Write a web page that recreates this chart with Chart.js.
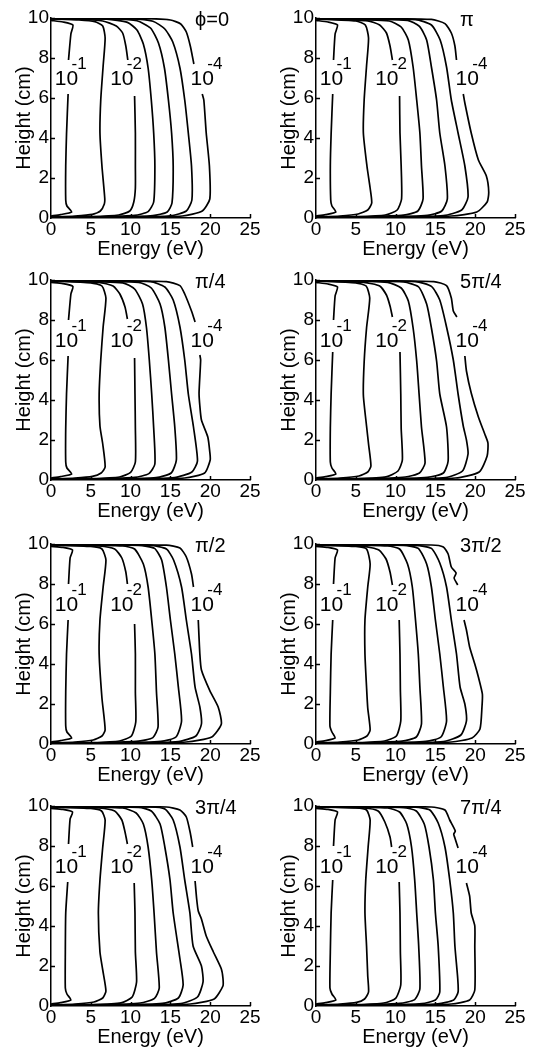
<!DOCTYPE html>
<html>
<head>
<meta charset="utf-8">
<script src="https://cdn.jsdelivr.net/npm/chart.js@4.4.1/dist/chart.umd.min.js"></script>
<style>
  body { margin: 0; background: #fff; }
  canvas { position: absolute; }
</style>
</head>
<body>
<script>
// axes
const energyTicks = [0, 5, 10, 15, 20, 25];
const heightTicks = [0, 2, 4, 6, 8, 10];
const panelNames = ['ϕ=0', 'π', 'π/4', '5π/4', 'π/2', '3π/2', '3π/4', '7π/4'];
// seven contours, 10^-1 to 10^-4 in half decades; 1st, 3rd and 7th are labelled
const levelExponents = ['-1', '-2', '-4'];

// contour lines as [energy (eV), height (cm)], null = gap under the label
const phi0 = [
  [[0,0.1],[1.2,0.17],[2.6,0.3],[2.0,0.6],[1.85,0.9],[1.85,2.6],[1.95,4.2],[2.15,6.2],null,[2.2,7.9],[2.5,9.2],[2.75,9.65],[1.5,9.8],[0,9.88]],
  [[0,0.05],[3,0.1],[5.2,0.18],[6.2,0.35],[6.7,0.7],[6.75,1.0],[6.4,2.6],[6.15,4.25],[6.25,5.9],[6.55,7.6],[6.8,9.0],[6.5,9.6],[5.5,9.82],[3.5,9.9],[0,9.95]],
  [[0,0.04],[5,0.07],[8.5,0.15],[9.9,0.35],[10.4,0.8],[10.6,1.5],[10.6,2.6],[10.6,4.25],[10.5,6.1],null,[9.65,7.9],[9.4,8.6],[9.0,9.25],[8.2,9.6],[6.5,9.85],[3,9.95],[0,9.97]],
  [[0,0.03],[6,0.06],[10.5,0.13],[12.2,0.32],[12.9,0.8],[13.05,2.6],[12.9,4.25],[12.6,5.9],[12.2,7.5],[11.6,8.7],[10.8,9.4],[9.6,9.78],[7,9.94],[0,9.98]],
  [[0,0.03],[8,0.05],[12.8,0.12],[14.6,0.3],[15.2,0.75],[15.35,2.6],[15.15,4.25],[14.75,5.9],[14.25,7.5],[13.5,8.75],[12.5,9.5],[10.8,9.86],[8,9.96],[0,9.99]],
  [[0,0.02],[9,0.04],[15,0.11],[17,0.35],[17.7,0.9],[17.65,2.6],[17.25,4.25],[16.8,5.9],[16.2,7.5],[15.3,8.8],[14.3,9.45],[12.8,9.84],[10,9.96],[0,9.99]],
  [[0,0.02],[10,0.04],[16.5,0.1],[19,0.35],[19.95,0.95],[19.9,2.6],[19.5,4.25],[19.2,5.9],[19.0,6.2],null,[17.95,7.7],[17.5,8.6],[17.0,9.3],[16.3,9.7],[15,9.9],[12,9.97],[0,9.99]]
];
const phiPi = [
  [[0,0.1],[1.2,0.17],[2.5,0.3],[2.0,0.6],[1.85,0.9],[1.8,2.6],[1.9,4.2],[2.1,6.2],null,[2.2,7.9],[2.4,9.2],[2.7,9.65],[1.5,9.8],[0,9.88]],
  [[0,0.05],[3,0.1],[5.3,0.2],[6.5,0.4],[7.0,0.75],[6.8,1.5],[6.4,2.6],[5.95,4.25],[6.05,5.9],[6.35,7.6],[6.6,9.0],[6.2,9.65],[5,9.85],[0,9.95]],
  [[0,0.04],[5,0.07],[8.7,0.15],[10.2,0.4],[10.75,0.95],[10.7,2.6],[10.55,4.25],[10.5,6.1],null,[9.6,7.9],[9.3,8.6],[8.85,9.25],[8,9.65],[6.5,9.86],[0,9.97]],
  [[0,0.03],[6,0.06],[11,0.14],[12.8,0.35],[13.45,0.95],[13.25,2.6],[13.05,4.25],[12.65,5.9],[12.2,7.55],[11.6,8.9],[10.7,9.55],[9.2,9.85],[0,9.98]],
  [[0,0.03],[8,0.05],[14,0.13],[15.8,0.35],[16.5,0.95],[16.2,2.6],[15.55,4.25],[15.15,5.9],[14.5,7.55],[13.9,8.9],[13,9.58],[11.5,9.88],[0,9.99]],
  [[0,0.02],[9,0.04],[16,0.12],[18.3,0.4],[19.1,1.05],[18.7,2.6],[17.85,4.25],[17.0,5.9],[16.4,7.55],[15.6,8.9],[14.5,9.65],[12.5,9.92],[0,9.99]],
  [[0,0.02],[10,0.04],[17,0.1],[20.2,0.3],[21.5,0.8],[21.7,1.3],[21.4,2.1],[20.4,2.9],[19.5,4.25],[18.7,5.75],[18.5,6.2],null,[17.65,7.9],[17.45,8.6],[17.0,9.25],[16.2,9.72],[14.5,9.93],[0,9.99]]
];
const phiPi4 = [
  [[0,0.1],[1.2,0.17],[2.6,0.3],[2.0,0.6],[1.85,0.9],[1.85,2.6],[1.95,4.3],[2.15,6.2],null,[2.2,8.0],[2.5,9.3],[2.75,9.68],[1.5,9.82],[0,9.88]],
  [[0,0.05],[3,0.1],[5.2,0.18],[6.3,0.35],[6.8,0.65],[6.5,1.8],[6.15,2.7],[6.05,4.3],[6.25,6.0],[6.55,7.65],[6.9,9.1],[6.4,9.7],[5,9.86],[0,9.95]],
  [[0,0.04],[5,0.07],[8.6,0.15],[10.0,0.38],[10.6,0.9],[10.6,2.6],[10.55,4.3],[10.5,6.1],null,[9.6,8.05],[9.3,8.65],[8.65,9.3],[7.8,9.7],[6,9.88],[0,9.97]],
  [[0,0.03],[6,0.06],[10.5,0.13],[12.3,0.32],[13.05,0.8],[12.9,2.6],[12.65,4.3],[12.35,6.0],[12.0,7.6],[11.5,8.8],[10.5,9.55],[9,9.86],[0,9.98]],
  [[0,0.03],[8,0.05],[13.2,0.12],[15.1,0.35],[15.75,1.0],[15.55,2.65],[15.15,4.3],[14.75,6.0],[14.3,7.65],[13.7,8.8],[12.6,9.6],[11,9.88],[0,9.99]],
  [[0,0.02],[9,0.04],[15.5,0.12],[17.7,0.4],[18.4,0.95],[17.9,2.65],[17.25,4.3],[16.8,6.0],[16.2,7.65],[15.35,9.0],[14.3,9.65],[12.5,9.92],[0,9.99]],
  [[0,0.02],[10,0.04],[16.8,0.1],[19.3,0.35],[20.0,1.0],[19.95,1.4],[19.7,2.15],[18.9,3.0],[18.7,3.7],[18.6,4.35],[18.8,6.0],[18.7,6.25],null,[18.1,7.9],[17.65,8.45],[16.8,9.3],[16.2,9.72],[14.5,9.92],[0,9.99]]
];
const phi5Pi4 = [
  [[0,0.1],[1.2,0.17],[2.5,0.3],[2.0,0.6],[1.8,0.9],[1.8,2.6],[1.9,4.3],[2.1,6.4],null,[2.2,8.0],[2.4,9.2],[2.7,9.65],[1.5,9.8],[0,9.88]],
  [[0,0.05],[3,0.1],[5.4,0.2],[6.5,0.4],[6.9,0.7],[6.6,1.8],[6.35,2.7],[5.95,4.25],[6.05,5.9],[6.35,7.6],[6.75,9.1],[6.3,9.7],[5,9.86],[0,9.95]],
  [[0,0.04],[5,0.07],[8.8,0.16],[10.3,0.45],[10.85,1.0],[10.7,2.6],[10.65,4.3],[10.55,6.4],null,[9.6,8.15],[9.3,8.7],[8.85,9.25],[8,9.7],[6,9.88],[0,9.97]],
  [[0,0.03],[6,0.06],[11.2,0.15],[13,0.35],[13.7,0.85],[13.25,2.65],[12.95,4.3],[12.65,5.95],[12.2,7.6],[11.6,8.95],[10.7,9.6],[9,9.88],[0,9.98]],
  [[0,0.03],[8,0.05],[14,0.13],[16,0.35],[16.6,0.95],[16.4,2.65],[15.55,4.3],[15.15,5.95],[14.5,7.6],[13.9,8.8],[12.9,9.65],[11,9.9],[0,9.99]],
  [[0,0.02],[9,0.04],[16.3,0.12],[18.4,0.45],[19.1,1.3],[18.9,2.0],[18.5,2.7],[17.85,4.3],[17.25,6.0],[16.4,7.65],[15.55,9.0],[14.5,9.68],[12.5,9.92],[0,9.99]],
  [[0,0.02],[10,0.04],[17.5,0.1],[20.5,0.4],[21.5,1.2],[21.6,1.85],[21.2,2.3],[20.4,3.15],[19.5,4.35],[18.9,5.45],[18.7,6.2],null,[17.7,8.15],[17.25,8.45],[17.0,9.1],[16.4,9.72],[14.8,9.92],[0,9.99]]
];
const phiPi2 = [
  [[0,0.1],[1.2,0.17],[2.6,0.3],[2.0,0.6],[1.85,0.9],[1.85,2.6],[1.95,4.5],[2.15,6.2],null,[2.2,8.0],[2.4,9.3],[2.7,9.7],[1.5,9.83],[0,9.88]],
  [[0,0.05],[3,0.1],[5.3,0.2],[6.4,0.4],[6.8,0.7],[6.4,2.3],[6.05,4.5],[6.15,6.2],[6.55,7.85],[6.9,9.2],[6.4,9.75],[5,9.88],[0,9.95]],
  [[0,0.04],[5,0.07],[8.6,0.15],[10.1,0.4],[10.65,1.1],[10.6,2.6],[10.6,4.5],[10.5,6.0],null,[9.6,8.0],[9.4,8.6],[8.9,9.3],[8,9.75],[6,9.9],[0,9.97]],
  [[0,0.03],[6,0.06],[11,0.14],[12.8,0.32],[13.45,0.85],[13.25,2.6],[13.05,4.5],[12.65,6.2],[12.2,7.85],[11.6,9.0],[10.5,9.75],[9,9.9],[0,9.98]],
  [[0,0.03],[8,0.05],[13.8,0.13],[15.7,0.35],[16.4,1.15],[16.0,2.84],[15.55,4.5],[15.0,6.2],[14.5,7.85],[13.9,9.2],[13,9.78],[11,9.93],[0,9.99]],
  [[0,0.02],[9,0.04],[16,0.12],[18.2,0.4],[18.9,1.0],[18.7,1.85],[18.1,2.84],[17.65,4.5],[17.0,6.2],[16.4,7.85],[15.4,9.2],[14.5,9.75],[12.5,9.93],[0,9.99]],
  [[0,0.02],[10,0.04],[17,0.1],[20.2,0.35],[21.4,1.0],[21.0,1.85],[19.95,2.67],[18.9,3.7],[18.7,4.5],[18.5,6.2],null,[17.9,7.85],[17.65,8.5],[17.0,9.35],[16.2,9.8],[14.5,9.94],[0,9.99]]
];
const phi3Pi2 = [
  [[0,0.1],[1.2,0.17],[2.4,0.3],[2.0,0.6],[1.75,0.9],[1.8,2.6],[1.9,4.5],[2.1,6.2],null,[2.2,8.0],[2.4,9.3],[2.7,9.7],[1.5,9.83],[0,9.88]],
  [[0,0.05],[3,0.1],[5.3,0.2],[6.4,0.4],[6.8,0.7],[6.5,1.8],[6.35,2.85],[6.15,4.5],[6.15,6.2],[6.5,7.85],[6.8,9.0],[6.35,9.75],[5,9.88],[0,9.95]],
  [[0,0.04],[5,0.07],[8.6,0.15],[10.1,0.4],[10.65,1.15],[10.6,2.7],[10.55,4.5],[10.45,6.2],null,[9.6,7.95],[9.3,8.6],[8.8,9.25],[7.9,9.7],[6,9.88],[0,9.97]],
  [[0,0.03],[6,0.06],[10.8,0.14],[12.6,0.35],[13.25,1.0],[13.05,2.85],[12.85,4.5],[12.5,6.2],[12.1,7.85],[11.5,9.0],[10.5,9.75],[9,9.9],[0,9.98]],
  [[0,0.03],[8,0.05],[13.8,0.13],[15.7,0.35],[16.4,1.15],[16.0,2.85],[15.55,4.5],[15.0,6.2],[14.5,7.85],[13.9,9.0],[12.85,9.78],[11,9.93],[0,9.99]],
  [[0,0.02],[9,0.04],[16,0.12],[18.2,0.45],[18.9,1.15],[18.7,2.0],[18.1,2.85],[17.65,4.5],[17.0,6.2],[16.4,7.85],[15.55,9.05],[14.5,9.78],[12.5,9.93],[0,9.99]],
  [[0,0.02],[10,0.04],[17,0.1],[19.6,0.3],[20.6,0.75],[20.85,1.85],[20.9,2.5],[20.4,3.35],[19.95,4.0],[19.3,4.85],[18.9,5.7],[18.6,6.2],null,[17.8,7.95],[17.35,8.3],[17.6,8.55],[17.0,8.85],[16.6,9.5],[16,9.85],[14.5,9.95],[0,9.99]]
];
const phi3Pi4 = [
  [[0,0.1],[1.2,0.17],[2.5,0.3],[2.0,0.6],[1.8,0.9],[1.8,2.7],[1.85,4.65],[2.1,6.2],null,[2.2,8.1],[2.4,9.35],[2.7,9.7],[1.5,9.83],[0,9.88]],
  [[0,0.05],[3,0.1],[5.4,0.2],[6.5,0.4],[6.9,0.75],[6.5,1.8],[6.15,2.7],[5.95,4.65],[6.15,6.3],[6.5,7.95],[6.8,9.3],[6.35,9.75],[5,9.88],[0,9.95]],
  [[0,0.04],[5,0.07],[8.8,0.16],[10.2,0.45],[10.75,1.2],[10.6,2.7],[10.55,4.65],[10.45,6.15],null,[9.6,8.1],[9.3,8.7],[8.9,9.3],[8,9.75],[6,9.9],[0,9.97]],
  [[0,0.03],[6,0.06],[11.2,0.15],[13,0.38],[13.6,0.9],[13.25,2.7],[12.95,4.65],[12.65,6.3],[12.2,7.95],[11.6,9.1],[10.7,9.65],[9,9.9],[0,9.98]],
  [[0,0.03],[8,0.05],[14,0.13],[16,0.4],[16.6,1.05],[16.2,2.35],[15.35,4.65],[14.95,6.3],[14.3,7.95],[13.7,9.1],[12.6,9.75],[11,9.93],[0,9.99]],
  [[0,0.02],[9,0.04],[16.3,0.12],[18.4,0.45],[19.1,1.2],[18.9,2.0],[17.85,3.0],[17.45,4.65],[16.8,6.3],[16.2,7.95],[15.35,9.3],[14.3,9.85],[12.5,9.95],[0,9.99]],
  [[0,0.02],[10,0.04],[17.5,0.1],[20.5,0.35],[21.6,1.0],[21.6,1.4],[21.4,1.85],[20.4,2.7],[19.5,3.5],[18.9,4.35],[18.5,4.75],[18.3,5.35],[18.1,6.25],null,[17.8,7.95],[17.5,8.65],[17.0,9.45],[16.2,9.8],[14.5,9.95],[0,9.99]]
];
const phi7Pi4 = [
  [[0,0.1],[1.2,0.17],[2.5,0.3],[2.0,0.6],[1.75,0.9],[1.8,2.7],[1.9,4.65],[2.1,6.3],null,[2.2,8.0],[2.4,9.3],[2.7,9.7],[1.5,9.83],[0,9.88]],
  [[0,0.05],[3,0.1],[5.1,0.18],[6.1,0.35],[6.6,0.7],[6.5,1.5],[6.35,3.0],[6.15,4.65],[6.25,6.3],[6.55,7.95],[6.8,9.3],[6.35,9.8],[5,9.9],[0,9.95]],
  [[0,0.04],[5,0.07],[8.5,0.15],[10.0,0.38],[10.65,1.05],[10.6,2.7],[10.55,4.65],[10.45,6.2],null,[9.5,7.95],[9.3,8.45],[8.65,9.2],[7.8,9.75],[6,9.9],[0,9.97]],
  [[0,0.03],[6,0.06],[10.5,0.13],[12.4,0.32],[13.05,0.85],[12.9,3.0],[12.65,4.65],[12.4,6.3],[12.0,7.95],[11.4,9.1],[10.5,9.7],[9,9.9],[0,9.98]],
  [[0,0.03],[8,0.05],[13.3,0.12],[15,0.3],[15.55,0.7],[15.35,3.0],[15.0,4.65],[14.75,6.3],[14.2,7.95],[13.6,9.1],[12.6,9.75],[11,9.92],[0,9.99]],
  [[0,0.02],[9,0.04],[15.3,0.11],[17.3,0.3],[17.85,0.7],[17.8,1.4],[17.45,3.0],[17.25,4.65],[16.8,6.3],[16.2,7.95],[15.35,9.15],[14.3,9.8],[12.5,9.94],[0,9.99]],
  [[0,0.02],[10,0.04],[17,0.1],[19.3,0.3],[19.95,0.8],[19.95,3.0],[19.95,4.0],[19.5,4.65],[19.3,5.5],[18.9,6.15],null,[17.85,7.9],[17.45,8.4],[17.3,8.6],[17.5,8.75],[16.8,9.3],[16.2,9.8],[14.5,9.95],[0,9.99]]
];

const panels = [phi0, phiPi, phiPi4, phi5Pi4, phiPi2, phi3Pi2, phi3Pi4, phi7Pi4];

// where the "10^-n" labels sit (energy, height)
const labelSpots = [[1.95, 6.95], [8.9, 6.95], [19.0, 6.95]];
const nameSpot = [18.1, 9.9];

const FONT = '"Liberation Sans", Arial, "DejaVu Sans", sans-serif';

// inward tick marks, contour labels and the phase label
const decorations = {
  id: 'decorations',
  afterDatasetsDraw(chart, args, opts) {
    const { ctx, chartArea, scales: { x, y } } = chart;
    ctx.save();
    ctx.strokeStyle = '#000';
    ctx.lineWidth = 1.5;
    energyTicks.slice(1).forEach(v => {
      const px = Math.round(x.getPixelForValue(v)) + 0.5;
      ctx.beginPath();
      ctx.moveTo(px, chartArea.bottom);
      ctx.lineTo(px, chartArea.bottom - 4);
      ctx.stroke();
    });
    heightTicks.slice(1).forEach(v => {
      const py = Math.round(y.getPixelForValue(v)) + 0.5;
      ctx.beginPath();
      ctx.moveTo(chartArea.left, py);
      ctx.lineTo(chartArea.left + 4, py);
      ctx.stroke();
    });

    ctx.fillStyle = '#000';
    ctx.textBaseline = 'middle';
    labelSpots.forEach(([lx, ly], k) => {
      const cx = x.getPixelForValue(lx);
      const cy = y.getPixelForValue(ly);
      ctx.font = '21px ' + FONT;
      ctx.textAlign = 'center';
      ctx.fillText('10', cx, cy);
      ctx.font = '17px ' + FONT;
      ctx.textAlign = 'left';
      ctx.fillText(levelExponents[k], cx + 5, cy - 15);
    });
    ctx.font = '20px ' + FONT;
    ctx.textAlign = 'left';
    ctx.fillText(opts.name, x.getPixelForValue(nameSpot[0]), y.getPixelForValue(nameSpot[1]));
    ctx.restore();
  }
};

const rowTops = [0, 262, 526, 788];

panels.forEach((contours, i) => {
  const canvas = document.createElement('canvas');
  canvas.width = 267;
  canvas.height = 262;
  canvas.style.left = (i % 2) * 265 + 'px';
  canvas.style.top = rowTops[Math.floor(i / 2)] + 'px';
  document.body.appendChild(canvas);

  new Chart(canvas.getContext('2d'), {
    type: 'line',
    data: {
      datasets: contours.map(c => ({
        data: c.map(p => p ? { x: p[0], y: p[1] } : { x: 0, y: null }),
        borderColor: '#000',
        borderWidth: 1.7,
        tension: 0.2,
        pointRadius: 0,
        fill: false
      }))
    },
    options: {
      responsive: false,
      animation: false,
      devicePixelRatio: 1,
      layout: { padding: { left: 0, right: 17, top: 18, bottom: 0 } },
      plugins: {
        legend: { display: false },
        tooltip: { enabled: false },
        decorations: { name: panelNames[i] }
      },
      scales: {
        x: {
          type: 'linear',
          min: 0,
          max: 25,
          afterBuildTicks: s => { s.ticks = energyTicks.map(v => ({ value: v })); },
          afterFit: s => { s.height = 44; },
          grid: { display: false, drawTicks: false },
          border: { display: true, color: '#000', width: 1.5 },
          ticks: { color: '#000', padding: 0, maxRotation: 0, font: { family: FONT, size: 19 } },
          title: { display: true, text: 'Energy (eV)', color: '#000', padding: { top: 0, bottom: 1 }, font: { family: FONT, size: 20 } }
        },
        y: {
          min: 0,
          max: 10,
          afterBuildTicks: s => { s.ticks = heightTicks.map(v => ({ value: v })); },
          afterFit: s => { s.width = 51; },
          grid: { display: false, drawTicks: false },
          border: { display: true, color: '#000', width: 1.5 },
          ticks: { color: '#000', padding: 2, font: { family: FONT, size: 19 } },
          title: { display: true, text: 'Height (cm)', color: '#000', padding: { top: 12, bottom: 0 }, font: { family: FONT, size: 20 } }
        }
      }
    },
    plugins: [decorations]
  });
});
</script>
</body>
</html>
